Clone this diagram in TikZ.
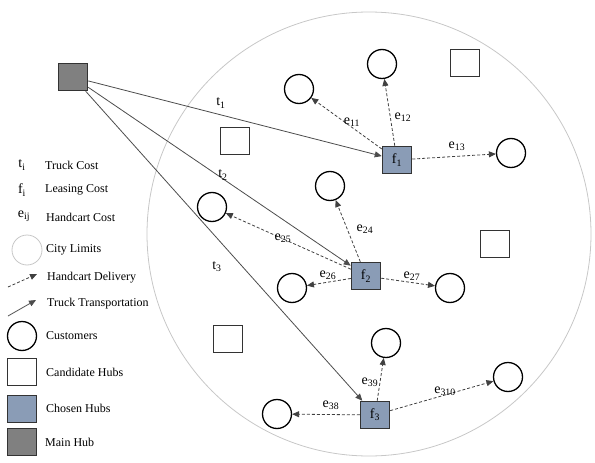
\documentclass[tikz,border=0pt]{standalone}
\usepackage{fontspec}
\setmainfont{Liberation Serif}
\usetikzlibrary{arrows.meta}

\definecolor{hubblue}{HTML}{8A9CB6}

\begin{document}
\begin{tikzpicture}[
        x=1pt,y=-1pt,
        font=\fontsize{12}{14}\selectfont,
        customer/.style={circle,draw=black,line width=1.3pt,minimum size=29pt,inner sep=0pt},
        candidate/.style={rectangle,draw=black!80,line width=1.5pt,fill=white,minimum width=29pt,minimum height=27pt,inner sep=0pt},
        chosen/.style={candidate,fill=hubblue,font=\fontsize{14}{16}\selectfont},
        mainhub/.style={candidate,fill=black!50},
        citylimits/.style={circle,draw=black!22,line width=0.8pt,inner sep=0pt},
        truck/.style={draw=black!70,line width=0.8pt,-{Triangle[length=7pt,width=6pt]}},
        handcart/.style={draw=black!75,line width=0.8pt,dash pattern=on 3pt off 2pt,-{Triangle[length=7pt,width=6pt]}},
        cost/.style={inner sep=1pt,font=\fontsize{14}{16}\selectfont},
        legend/.style={anchor=west,inner sep=0pt},
      ]
      \useasboundingbox (0,0) rectangle (595,463);

      % city limits
      \node[citylimits,minimum size=444pt] (city) at (369,234) {};

      % hubs
      \node[mainhub] (main) at (73,77) {};
      \node[chosen] (f1) at (397,160) {f\textsubscript{1}};
      \node[chosen] (f2) at (366,276) {f\textsubscript{2}};
      \node[chosen] (f3) at (375,415) {f\textsubscript{3}};
      \node[candidate] (h1) at (465,63) {};
      \node[candidate] (h2) at (235,141) {};
      \node[candidate] (h3) at (495,244) {};
      \node[candidate] (h4) at (228,339) {};

      % customers
      \node[customer] (c11) at (299,89) {};
      \node[customer] (c12) at (382,64) {};
      \node[customer] (c13) at (511,153) {};
      \node[customer] (c24) at (330,186) {};
      \node[customer] (c25) at (212,207) {};
      \node[customer] (c26) at (292,288) {};
      \node[customer] (c27) at (450,288) {};
      \node[customer] (c39) at (386,343) {};
      \node[customer] (c310) at (508,377) {};
      \node[customer] (c38) at (277,414) {};

      % truck transportation
      \draw[truck] (main) -- (f1);
      \draw[truck] (main) -- (f2);
      \draw[truck] (main) -- (f3);

      % handcart delivery
      \draw[handcart] (f1) -- (c11);
      \draw[handcart] (f1) -- (c12);
      \draw[handcart] (f1) -- (c13);
      \draw[handcart] (f2) -- (c24);
      \draw[handcart] (f2) -- (c25);
      \draw[handcart] (f2) -- (c26);
      \draw[handcart] (f2) -- (c27);
      \draw[handcart] (f3) -- (c39);
      \draw[handcart] (f3) -- (c310);
      \draw[handcart] (f3) -- (c38);

      % costs
      \node[cost] (t1) at (221,103) {t\textsubscript{1}};
      \node[cost] (t2) at (223,175) {t\textsubscript{2}};
      \node[cost] (t3) at (217,267) {t\textsubscript{3}};
      \node[cost] (e11) at (352,122) {e\textsubscript{11}};
      \node[cost] (e12) at (403,117) {e\textsubscript{12}};
      \node[cost] (e13) at (457,146) {e\textsubscript{13}};
      \node[cost] (e24) at (365,229) {e\textsubscript{24}};
      \node[cost] (e25) at (283,238) {e\textsubscript{25}};
      \node[cost] (e26) at (328,275) {e\textsubscript{26}};
      \node[cost] (e27) at (412,276) {e\textsubscript{27}};
      \node[cost] (e39) at (370,382) {e\textsubscript{39}};
      \node[cost] (e310) at (445,391) {e\textsubscript{310}};
      \node[cost] (e38) at (331,405) {e\textsubscript{38}};

      % legend
      \node[cost] (lt) at (22,165) {t\textsubscript{i}};
      \node[cost] (lf) at (22,190) {f\textsubscript{i}};
      \node[cost] (le) at (24,216) {e\textsubscript{ij}};
      \node[citylimits,minimum size=30pt] (lcity) at (27,250) {};
      \coordinate (hcA) at (8,287);
      \coordinate (hcB) at (37,274);
      \draw[handcart] (hcA) -- (hcB);
      \coordinate (trA) at (8,316);
      \coordinate (trB) at (36,300);
      \draw[truck] (trA) -- (trB);
      \node[customer] (lcust) at (22,336) {};
      \node[candidate] (lcand) at (22,372) {};
      \node[chosen] (lchosen) at (22,409) {};
      \node[mainhub] (lmain) at (22,442) {};

      \node[legend] (ltxt1) at (45,165) {Truck Cost};
      \node[legend] (ltxt2) at (45,190) {Leasing Cost};
      \node[legend] (ltxt3) at (46,217) {Handcart Cost};
      \node[legend] (ltxt4) at (46,250) {City Limits};
      \node[legend] (ltxt5) at (47,278) {Handcart Delivery};
      \node[legend] (ltxt6) at (47,304) {Truck Transportation};
      \node[legend] (ltxt7) at (46,336) {Customers};
      \node[legend] (ltxt8) at (46,372) {Candidate Hubs};
      \node[legend] (ltxt9) at (46,408) {Chosen Hubs};
      \node[legend] (ltxt10) at (45,442) {Main Hub};

    \end{tikzpicture}
\end{document}
